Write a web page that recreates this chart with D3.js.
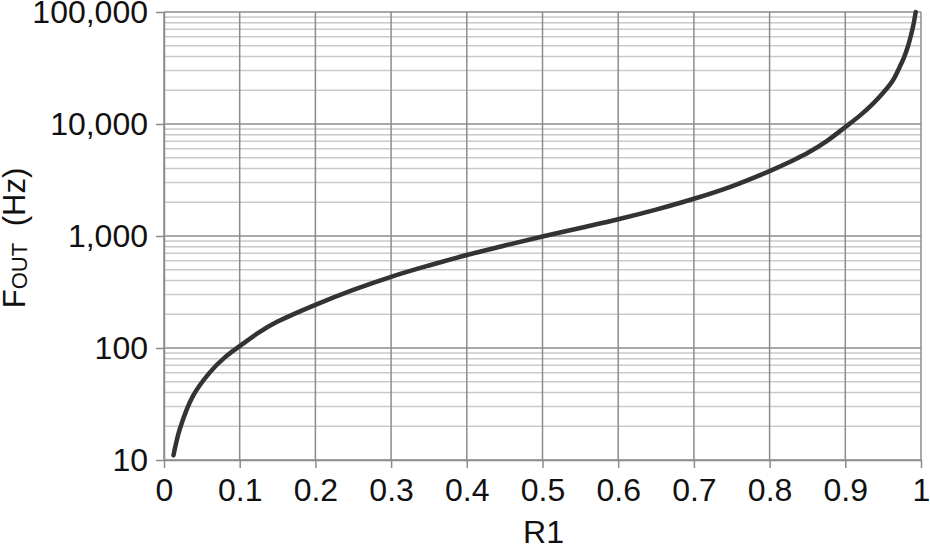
<!DOCTYPE html>
<html>
<head>
<meta charset="utf-8">
<script src="https://cdn.jsdelivr.net/npm/d3@7"></script>
<style>
  body { margin: 0; background: #fff; }
  text { font-family: "Liberation Sans", Arial, sans-serif; fill: #111; }
</style>
</head>
<body>
<svg id="chart" width="930" height="546"></svg>
<script>
// values (R1 vs FOUT in Hz)
const r1 = [0.0125, 0.021, 0.038, 0.06, 0.08, 0.1, 0.125, 0.15, 0.2, 0.25,
  0.3, 0.35, 0.4, 0.45, 0.5, 0.55, 0.6, 0.65, 0.7, 0.75,
  0.8, 0.83, 0.85, 0.875, 0.9, 0.92, 0.937, 0.95, 0.963, 0.972,
  0.978, 0.983, 0.987, 0.99, 0.993]
const fout = [11, 19, 37, 60, 82, 104, 137, 172, 243, 330,
  432, 545, 676, 822, 990, 1180, 1410, 1720, 2150, 2780,
  3800, 4700, 5500, 7000, 9400, 12000, 15300, 19000, 24600, 32500,
  40000, 50000, 63000, 77000, 100000]

const xTicks = [0, 0.1, 0.2, 0.3, 0.4, 0.5, 0.6, 0.7, 0.8, 0.9, 1]
const yTicks = [10, 100, 1000, 10000, 100000]

const plotL = 164, plotR = 921, plotT = 12, plotB = 460

const svg = d3.select("#chart")

const x = d3.scaleLinear().domain([0, 1]).range([plotL, plotR])
const y = d3.scaleLog().domain([10, 100000]).range([plotB, plotT])

// minor horizontal grid (2..9 per decade)
const minor = y.ticks().filter(d => !yTicks.includes(d))
svg.append("g")
  .selectAll("line")
  .data(minor)
  .join("line")
  .attr("x1", plotL).attr("x2", plotR)
  .attr("y1", d => y(d)).attr("y2", d => y(d))
  .attr("stroke", "#cacaca")
  .attr("stroke-width", 1.5)

// major grid
svg.append("g")
  .selectAll("line")
  .data(yTicks)
  .join("line")
  .attr("x1", plotL).attr("x2", plotR)
  .attr("y1", d => y(d)).attr("y2", d => y(d))
  .attr("stroke", "#8c8c8c")
  .attr("stroke-width", 1.5)

svg.append("g")
  .selectAll("line")
  .data(xTicks)
  .join("line")
  .attr("x1", d => x(d)).attr("x2", d => x(d))
  .attr("y1", plotT).attr("y2", plotB)
  .attr("stroke", "#8c8c8c")
  .attr("stroke-width", 1.5)

// axes
const fmt = d3.format(",")
const xAxis = svg.append("g")
  .attr("transform", `translate(0,${plotB})`)
  .call(d3.axisBottom(x).tickValues(xTicks).tickFormat(d => d)
    .tickSizeInner(8).tickSizeOuter(0).tickPadding(10))
const yAxis = svg.append("g")
  .attr("transform", `translate(${plotL},0)`)
  .call(d3.axisLeft(y).tickValues(yTicks).tickFormat(fmt)
    .tickSizeInner(8).tickSizeOuter(0).tickPadding(8))

for (const a of [xAxis, yAxis]) {
  a.select(".domain").attr("stroke", "#8c8c8c").attr("stroke-width", 1.5)
  a.selectAll(".tick line").attr("stroke", "#8c8c8c").attr("stroke-width", 1.5)
  a.selectAll(".tick text")
    .attr("font-family", '"Liberation Sans", Arial, sans-serif')
    .attr("font-size", 32)
    .attr("fill", "#111")
}

// curve
const line = d3.line()
  .x((d, i) => x(r1[i]))
  .y(d => y(d))
  .curve(d3.curveCatmullRom.alpha(0.5))

svg.append("path")
  .attr("d", line(fout))
  .attr("fill", "none")
  .attr("stroke", "#333")
  .attr("stroke-width", 4.5)
  .attr("stroke-linecap", "round")

// axis titles
svg.append("text")
  .attr("x", (plotL + plotR) / 2 + 1)
  .attr("y", 543)
  .attr("text-anchor", "middle")
  .attr("font-size", 32)
  .text("R1")

const yt = svg.append("text")
  .attr("transform", "translate(25,238) rotate(-90)")
  .attr("text-anchor", "middle")
  .attr("font-size", 31)
yt.append("tspan").text("F")
yt.append("tspan").attr("font-size", 22).attr("dy", 2).text("OUT")
yt.append("tspan").attr("dy", -2).attr("dx", 8).text(" (Hz)")
</script>
</body>
</html>
